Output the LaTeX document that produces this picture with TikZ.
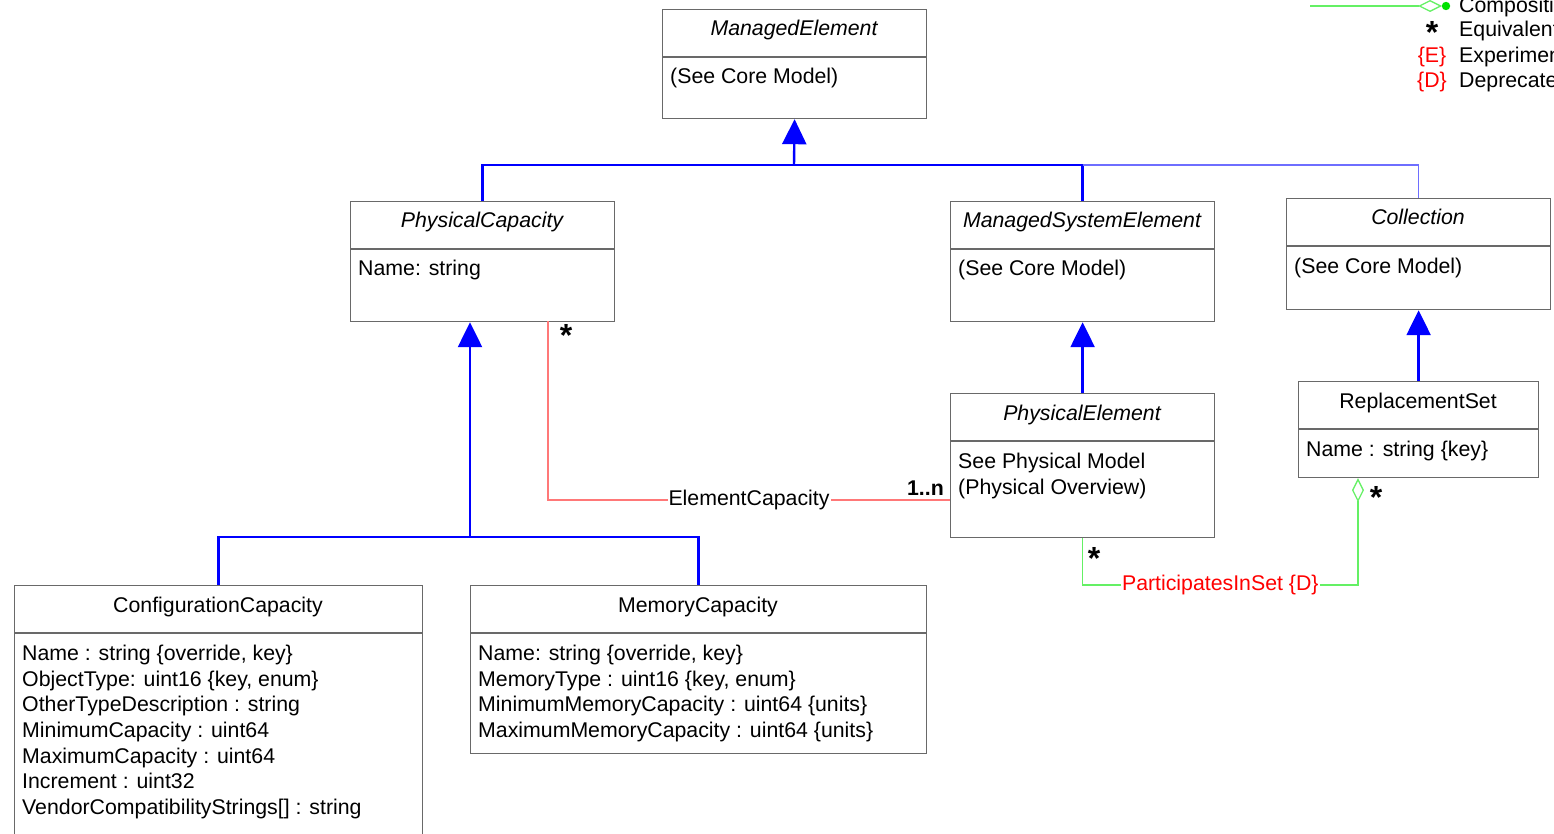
\documentclass[tikz,border=0pt]{standalone}
\usepackage{fontspec}
\setmainfont{Liberation Sans}
\usetikzlibrary{arrows.meta}
\definecolor{boxgray}{RGB}{105,105,105}
\definecolor{inhblue}{RGB}{0,0,255}
\definecolor{lightblue}{RGB}{110,110,255}
\definecolor{assocred}{RGB}{255,120,120}
\definecolor{assocgreen}{RGB}{100,240,100}
\definecolor{dotgreen}{RGB}{0,225,0}
\definecolor{lblred}{RGB}{255,0,0}
\begin{document}
\begin{tikzpicture}[x=1pt,y=-1pt,
  font=\fontsize{21.3}{25.7}\selectfont,
  umlbox/.style={draw=boxgray, line width=1.2pt, inner sep=0pt, anchor=north west},
  divider/.style={draw=boxgray, line width=1.2pt},
  ttl/.style={anchor=base, inner sep=0pt},
  txt/.style={anchor=base west, inner sep=0pt},
  inhline/.style={draw=inhblue, line width=2.4pt},
  inh/.style={draw=inhblue, line width=2.4pt, -{Triangle[length=25pt,width=24pt]}, fill=inhblue},
  thinblue/.style={draw=lightblue, line width=1.3pt},
  redline/.style={draw=assocred, line width=1.3pt},
  greenline/.style={draw=assocgreen, line width=1.3pt},
  star/.style={anchor=base, inner sep=0pt, font=\fontsize{32}{32}\selectfont\bfseries},
  lbl/.style={fill=white, inner sep=1pt}
]
\useasboundingbox (0,0) rectangle (1554,834);
\clip (0,0) rectangle (1554,834);

% ---- boxes ----
\node[umlbox, minimum width=264pt, minimum height=109pt] (me) at (662,9) {};
\draw[divider] (me.west |- 0,57) -- (me.east |- 0,57);
\node[ttl] (metitle) at (794,36) {\itshape ManagedElement};
\node[txt] (mebody) at (670,84) {(See Core Model)};

\node[umlbox, minimum width=264pt, minimum height=120pt] (pc) at (350,201) {};
\draw[divider] (pc.west |- 0,249) -- (pc.east |- 0,249);
\node[ttl] (pctitle) at (482,228) {\itshape PhysicalCapacity};
\node[txt] (pcbody) at (358,276) {Name: string};

\node[umlbox, minimum width=264pt, minimum height=120pt] (mse) at (950,201) {};
\draw[divider] (mse.west |- 0,249) -- (mse.east |- 0,249);
\node[ttl] (msetitle) at (1082,228) {\itshape ManagedSystemElement};
\node[txt] (msebody) at (958,276) {(See Core Model)};

\node[umlbox, minimum width=264pt, minimum height=111pt] (col) at (1286,198) {};
\draw[divider] (col.west |- 0,246) -- (col.east |- 0,246);
\node[ttl] (coltitle) at (1418,225) {\itshape Collection};
\node[txt] (colbody) at (1294,273) {(See Core Model)};

\node[umlbox, minimum width=264pt, minimum height=144pt] (pe) at (950,393) {};
\draw[divider] (pe.west |- 0,441) -- (pe.east |- 0,441);
\node[ttl] (petitle) at (1082,420) {\itshape PhysicalElement};
\node[txt] (pebody1) at (958,468) {See Physical Model};
\node[txt] (pebody2) at (958,494) {(Physical Overview)};

\node[umlbox, minimum width=240pt, minimum height=96pt] (rs) at (1298,381) {};
\draw[divider] (rs.west |- 0,429) -- (rs.east |- 0,429);
\node[ttl] (rstitle) at (1418,408) {ReplacementSet};
\node[txt] (rsbody) at (1306,456) {Name : string \{key\}};

\node[umlbox, minimum width=408pt, minimum height=270pt] (cc) at (14,585) {};
\draw[divider] (cc.west |- 0,633) -- (cc.east |- 0,633);
\node[ttl] (cctitle) at (218,612) {ConfigurationCapacity};
\node[txt] (cc1) at (22,660) {Name : string \{override, key\}};
\node[txt] (cc2) at (22,686) {ObjectType: uint16 \{key, enum\}};
\node[txt] (cc3) at (22,711) {OtherTypeDescription : string};
\node[txt] (cc4) at (22,737) {MinimumCapacity : uint64};
\node[txt] (cc5) at (22,763) {MaximumCapacity : uint64};
\node[txt] (cc6) at (22,788) {Increment : uint32};
\node[txt] (cc7) at (22,814) {VendorCompatibilityStrings[] : string};

\node[umlbox, minimum width=456pt, minimum height=168pt] (mc) at (470,585) {};
\draw[divider] (mc.west |- 0,633) -- (mc.east |- 0,633);
\node[ttl] (mctitle) at (698,612) {MemoryCapacity};
\node[txt] (mc1) at (478,660) {Name: string \{override, key\}};
\node[txt] (mc2) at (478,686) {MemoryType : uint16 \{key, enum\}};
\node[txt] (mc3) at (478,711) {MinimumMemoryCapacity : uint64 \{units\}};
\node[txt] (mc4) at (478,737) {MaximumMemoryCapacity : uint64 \{units\}};

% ---- inheritance ----
\coordinate (j1) at (794,165);
\draw[inhline] (pc.north) |- (j1) -| (mse.north);
\draw[thinblue] (mse.north |- j1) -| (col.north);
\draw[inh] (j1) -- (me.south);

\coordinate (j2) at (470,537);
\draw[inhline] (cc.north) |- (j2) -| (mc.north);
\draw[inh] (j2) -- (j2 |- pc.south);

\draw[inh] (pe.north) -- (mse.south);
\draw[inh] (rs.north) -- (col.south);

% ---- ElementCapacity ----
\coordinate (ec1) at (548,321);
\draw[redline] (ec1) |- node[pos=0.75, lbl] (eclbl) {ElementCapacity} (pe.west |- 0,500);
\node[star] (ecstar) at (566,346) {*};
\node[anchor=base east, inner sep=0pt, font=\fontsize{21.3}{25.7}\selectfont\bfseries] (ecmult) at (944,495) {1..n};

% ---- ParticipatesInSet ----
\coordinate (p2) at (1358,585);
\draw[greenline, -{Diamond[open, length=24pt, width=12pt]}] (pe.south) |- node[pos=0.75, lbl, text=lblred] (pislbl) {ParticipatesInSet \{D\}} (p2) -- (p2 |- rs.south);
\node[star] (pisstar1) at (1094,569) {*};
\node[star] (pisstar2) at (1376,508) {*};

% ---- legend ----
\coordinate (lg1) at (1310,6);
\coordinate (lg2) at (1442,6);
\draw[greenline, -{Diamond[open, length=24pt, width=12pt]}] (lg1) -- (lg2);
\fill[dotgreen] (1446,6) circle (4.2pt);
\node[txt] (lgcomp) at (1459,13) {Composition};
\node[star] (lgstar) at (1432,44) {*};
\node[txt] (lgequiv) at (1459,37) {Equivalent};
\node[anchor=base, inner sep=0pt, text=lblred] (lge) at (1432,63) {\{E\}};
\node[txt] (lgexp) at (1459,63) {Experimental};
\node[anchor=base, inner sep=0pt, text=lblred] (lgd) at (1432,88) {\{D\}};
\node[txt] (lgdep) at (1459,88) {Deprecated};
\end{tikzpicture}
\end{document}
